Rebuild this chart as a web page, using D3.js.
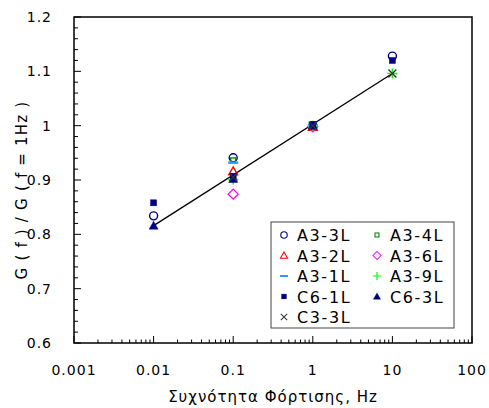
<!DOCTYPE html>
<html>
<head>
<meta charset="utf-8">
<script src="https://cdn.jsdelivr.net/npm/d3@7"></script>
<style>
body{margin:0;background:#fff;}
text{font-family:"DejaVu Sans",Verdana,sans-serif;fill:#000;}
</style>
</head>
<body>
<div id="chart"></div>
<script>
// frequencies (Hz) and normalised modulus per specimen
const freqs=[0.01,0.1,1,10];
const seriesNames=['A3-3L','A3-4L','A3-2L','A3-6L','A3-1L','A3-9L','C6-1L','C6-3L','C3-3L'];
const a33=[0.834,0.941,1.0,1.128];
const a34=[null,0.936,1.0,null];
const a32=[null,0.916,0.998,null];
const a36=[null,0.874,0.998,null];
const a31=[null,0.932,1.0,null];
const a39=[null,0.901,1.0,1.096];
const c61=[0.858,0.907,1.002,1.120];
const c63=[0.816,0.902,1.0,null];
const c33=[null,0.905,1.0,1.096];
const fitX=[0.01,10];
const fitY=[0.816,1.096];
const xTicks=[0.001,0.01,0.1,1,10,100];
const yTicks=[0.6,0.7,0.8,0.9,1,1.1,1.2];

const width=489,height=408;
const margin={top:17,right:17,bottom:65,left:74};

const svg=d3.select('#chart').append('svg')
  .attr('width',width).attr('height',height);

const x=d3.scaleLog().domain([0.001,100]).range([margin.left,width-margin.right]);
const y=d3.scaleLinear().domain([0.6,1.2]).range([height-margin.bottom,margin.top]);

// minor ticks
const xMinor=[];
for(let e=-3;e<2;e++) for(let m=2;m<10;m++) xMinor.push(m*Math.pow(10,e));
const yMinor=d3.range(0.62,1.2,0.02).filter(v=>Math.abs(v*10-Math.round(v*10))>0.01);

const g=svg.append('g').attr('stroke','#000');
g.selectAll('.xm').data(xMinor).join('line')
  .attr('x1',d=>x(d)).attr('x2',d=>x(d))
  .attr('y1',y(0.6)).attr('y2',y(0.6)-3.5).attr('stroke-width',1);
g.selectAll('.xM').data(xTicks).join('line')
  .attr('x1',d=>x(d)).attr('x2',d=>x(d))
  .attr('y1',y(0.6)).attr('y2',y(0.6)-7).attr('stroke-width',1);
g.selectAll('.ym').data(yMinor).join('line')
  .attr('x1',x(0.001)).attr('x2',x(0.001)+4)
  .attr('y1',d=>y(d)).attr('y2',d=>y(d)).attr('stroke-width',1);
g.selectAll('.yM').data(yTicks).join('line')
  .attr('x1',x(0.001)).attr('x2',x(0.001)+7)
  .attr('y1',d=>y(d)).attr('y2',d=>y(d)).attr('stroke-width',1);

// frame
svg.append('rect')
  .attr('x',margin.left).attr('y',margin.top)
  .attr('width',width-margin.left-margin.right)
  .attr('height',height-margin.top-margin.bottom)
  .attr('fill','none').attr('stroke','#000').attr('stroke-width',1.5);

// tick labels
svg.selectAll('.xl').data(xTicks).join('text')
  .attr('x',d=>x(d)).attr('y',y(0.6)+32)
  .attr('text-anchor','middle').attr('font-size',14).attr('letter-spacing',1)
  .text(d=>d);
svg.selectAll('.yl').data(yTicks).join('text')
  .attr('x',margin.left-22).attr('y',d=>y(d)+5)
  .attr('text-anchor','end').attr('font-size',14).attr('letter-spacing',1)
  .text(d=>d);

svg.append('text')
  .attr('x',(margin.left+width-margin.right)/2).attr('y',height-6)
  .attr('text-anchor','middle').attr('font-size',15).attr('letter-spacing',1)
  .text('Συχνότητα Φόρτισης, Hz');
svg.append('text')
  .attr('transform','translate(27,'+((margin.top+height-margin.bottom)/2+10)+') rotate(-90)')
  .attr('text-anchor','middle').attr('font-size',15).attr('letter-spacing',1.2)
  .text('G ( f ) / G ( f = 1Hz )');

// fitted line
svg.append('path')
  .datum(fitX.map((d,i)=>[d,fitY[i]]))
  .attr('d',d3.line().x(d=>x(d[0])).y(d=>y(d[1])))
  .attr('fill','none').attr('stroke','#000').attr('stroke-width',1.3);

// marker drawing
const styles={
  'A3-3L':{type:'circle',color:'#000080',fill:false,vals:a33},
  'A3-4L':{type:'square',color:'#008000',fill:false,vals:a34,s:5},
  'A3-2L':{type:'triangle',color:'#FF0000',fill:false,vals:a32},
  'A3-6L':{type:'diamond',color:'#FF00FF',fill:false,vals:a36},
  'A3-1L':{type:'dash',color:'#3399FF',vals:a31},
  'A3-9L':{type:'plus',color:'#00FF00',vals:a39},
  'C6-1L':{type:'square',color:'#000080',fill:true,vals:c61,s:6},
  'C6-3L':{type:'triangle',color:'#000080',fill:true,vals:c63},
  'C3-3L':{type:'x',color:'#333333',vals:c33}
};
function marker(sel,st){
  const c=st.color;
  if(st.type==='circle'){
    sel.append('circle').attr('r',4).attr('fill','none').attr('stroke',c).attr('stroke-width',1.4);
  }else if(st.type==='square'){
    const s=st.s;
    sel.append('rect').attr('x',-s/2).attr('y',-s/2).attr('width',s).attr('height',s)
      .attr('fill',st.fill?c:'none').attr('stroke',c).attr('stroke-width',st.fill?0.5:1.3);
  }else if(st.type==='triangle'){
    sel.append('path').attr('d','M0,-4.5L4.5,3.5L-4.5,3.5Z')
      .attr('fill',st.fill?c:'none').attr('stroke',c).attr('stroke-width',st.fill?0.5:1.3);
  }else if(st.type==='diamond'){
    sel.append('path').attr('d','M0,-5L5,0L0,5L-5,0Z')
      .attr('fill','none').attr('stroke',c).attr('stroke-width',1.3);
  }else if(st.type==='dash'){
    sel.append('path').attr('d','M-5,0H5').attr('stroke',c).attr('stroke-width',2.5);
  }else if(st.type==='plus'){
    sel.append('path').attr('d','M-5,0H5M0,-5V5').attr('stroke',c).attr('stroke-width',1.5);
  }else if(st.type==='x'){
    sel.append('path').attr('d','M-4,-4L4,4M-4,4L4,-4').attr('stroke',c).attr('stroke-width',1.3);
  }
}

seriesNames.forEach(name=>{
  const st=styles[name];
  freqs.forEach((f,i)=>{
    const v=st.vals[i];
    if(v==null) return;
    const m=svg.append('g').attr('transform','translate('+x(f)+','+y(v)+')');
    marker(m,st);
  });
});

// legend
const legendOrder=[['A3-3L','A3-4L'],['A3-2L','A3-6L'],['A3-1L','A3-9L'],['C6-1L','C6-3L'],['C3-3L']];
const lg=svg.append('g').attr('transform','translate(271,222)');
lg.append('rect').attr('width',183).attr('height',106)
  .attr('fill','#fff').attr('stroke','#444').attr('stroke-width',1);
legendOrder.forEach((row,r)=>{
  row.forEach((name,cI)=>{
    const gx=cI===0?13:106, gy=13+r*20.5;
    const item=lg.append('g').attr('transform','translate('+gx+','+gy+')');
    const st=Object.assign({},styles[name]);
    const m=item.append('g').attr('transform','scale(0.8)');
    marker(m,st);
    item.append('text').attr('x',13).attr('y',6)
      .attr('font-size',16).attr('letter-spacing',1.6).text(name);
  });
});
</script>
</body>
</html>
